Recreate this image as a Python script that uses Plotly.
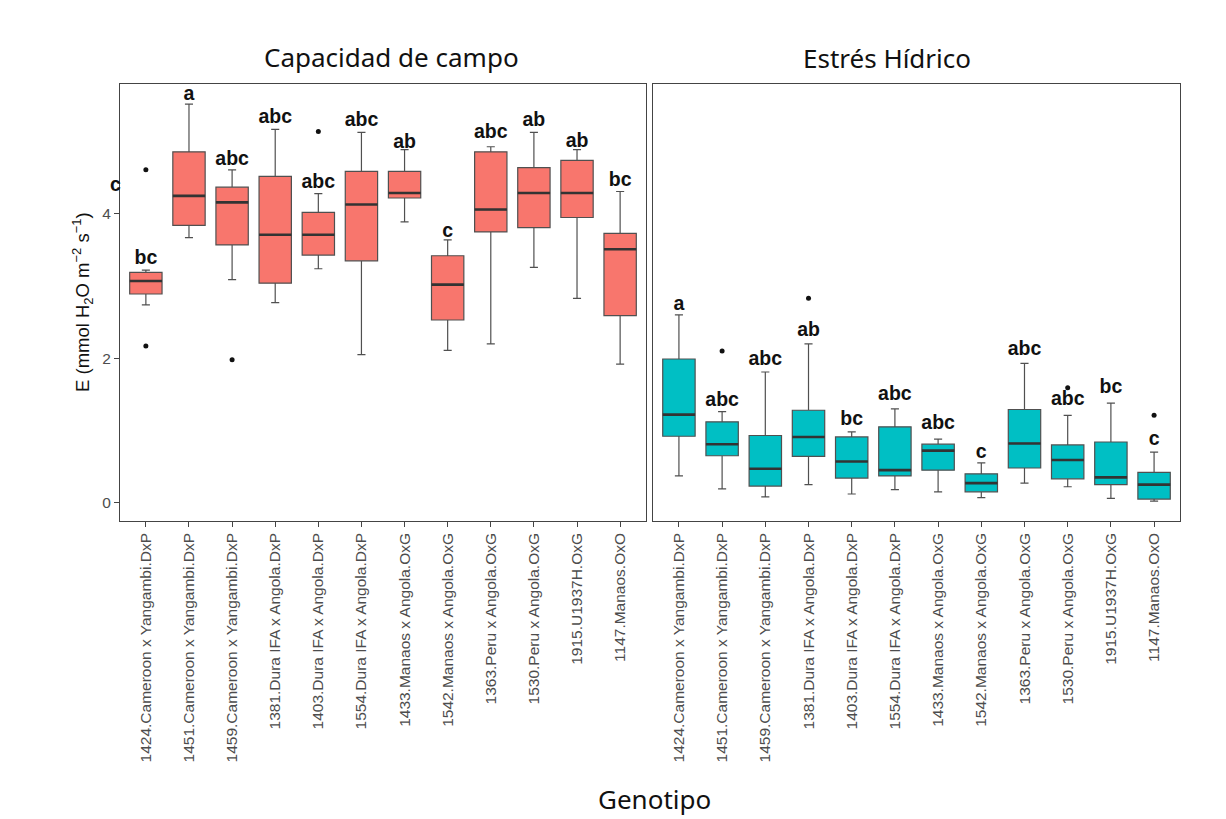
import plotly.graph_objects as go

genotypes = [
    "1424.Cameroon x Yangambi.DxP", "1451.Cameroon x Yangambi.DxP",
    "1459.Cameroon x Yangambi.DxP", "1381.Dura IFA x Angola.DxP",
    "1403.Dura IFA x Angola.DxP", "1554.Dura IFA x Angola.DxP",
    "1433.Manaos x Angola.OxG", "1542.Manaos x Angola.OxG",
    "1363.Peru x Angola.OxG", "1530.Peru x Angola.OxG",
    "1915.U1937H.OxG", "1147.Manaos.OxO",
]

# Capacidad de campo
cc_low = [2.74, 3.67, 3.09, 2.77, 3.24, 2.05, 3.89, 2.11, 2.20, 3.26, 2.83, 1.92]
cc_q1 = [2.89, 3.84, 3.57, 3.04, 3.43, 3.35, 4.22, 2.53, 3.75, 3.81, 3.95, 2.59]
cc_med = [3.07, 4.25, 4.16, 3.71, 3.71, 4.13, 4.29, 3.02, 4.06, 4.29, 4.29, 3.51]
cc_q3 = [3.19, 4.86, 4.37, 4.52, 4.02, 4.59, 4.59, 3.42, 4.86, 4.64, 4.74, 3.73]
cc_high = [3.22, 5.52, 4.61, 5.17, 4.28, 5.13, 4.89, 3.64, 4.93, 5.13, 4.89, 4.31]
cc_out_x = [0, 0, 2, 4]
cc_out_y = [4.61, 2.17, 1.98, 5.14]
cc_letters = ["bc", "a", "abc", "abc", "abc", "abc", "ab", "c", "abc", "ab", "ab", "bc"]
cc_letter_y = [3.38, 5.65, 4.75, 5.33, 4.43, 5.28, 4.98, 3.75, 5.12, 5.28, 4.99, 4.45]

# Estrés Hídrico
eh_low = [0.37, 0.19, 0.08, 0.25, 0.12, 0.18, 0.15, 0.07, 0.27, 0.22, 0.06, 0.02]
eh_q1 = [0.92, 0.65, 0.23, 0.64, 0.34, 0.37, 0.45, 0.15, 0.48, 0.33, 0.25, 0.05]
eh_med = [1.22, 0.81, 0.47, 0.91, 0.57, 0.45, 0.72, 0.27, 0.82, 0.59, 0.35, 0.25]
eh_q3 = [1.99, 1.12, 0.93, 1.28, 0.91, 1.05, 0.81, 0.40, 1.29, 0.80, 0.84, 0.42]
eh_high = [2.60, 1.26, 1.81, 2.20, 0.98, 1.30, 0.88, 0.55, 1.93, 1.21, 1.38, 0.70]
eh_out_x = [1, 3, 9, 11]
eh_out_y = [2.10, 2.83, 1.59, 1.21]
eh_letters = ["a", "abc", "abc", "ab", "bc", "abc", "abc", "c", "abc", "abc", "bc", "c"]
eh_letter_y = [2.74, 1.40, 1.97, 2.37, 1.15, 1.49, 1.09, 0.69, 2.11, 1.42, 1.58, 0.86]

panel_titles = ["Capacidad de campo", "Estrés Hídrico"]
x_title = "Genotipo"
y_title = "E (mmol H<sub>2</sub>O m<sup>−2</sup> s<sup>−1</sup>)"
stray_letter = "c"
stray_letter_y = 4.41
y_ticks = [0, 2, 4]

# page body has an 8px margin; the figure is offset by it
OFF = 8
FW, FH = 1226 - OFF, 819 - OFF


def px(rx):
    return (rx - OFF) / FW


def py(ry):
    return 1 - (ry - OFF) / FH


BOX_W = 0.75
idx = list(range(len(genotypes)))

fig = go.Figure()

panels = [
    ("x", "y", cc_low, cc_q1, cc_med, cc_q3, cc_high, cc_out_x, cc_out_y, cc_letters, cc_letter_y, "#F8766D"),
    ("x2", "y2", eh_low, eh_q1, eh_med, eh_q3, eh_high, eh_out_x, eh_out_y, eh_letters, eh_letter_y, "#00BFC4"),
]

letter_font = dict(family="Liberation Sans", size=19.5, color="#111111", weight="bold")

for xa, ya, lo, q1, med, q3, hi, ox, oy, letters, ly, col in panels:
    fig.add_trace(go.Box(
        x=idx, q1=q1, median=med, q3=q3, lowerfence=lo, upperfence=hi,
        width=BOX_W, whiskerwidth=0.25, fillcolor=col,
        line=dict(color="#505050", width=1.2), boxpoints=False,
        xaxis=xa, yaxis=ya, showlegend=False, hoverinfo="skip",
    ))
    mx, my = [], []
    for i, m in zip(idx, med):
        mx += [i - BOX_W / 2, i + BOX_W / 2, None]
        my += [m, m, None]
    fig.add_trace(go.Scatter(x=mx, y=my, mode="lines",
                             line=dict(color="#333333", width=2.6),
                             xaxis=xa, yaxis=ya, showlegend=False, hoverinfo="skip"))
    fig.add_trace(go.Scatter(x=ox, y=oy, mode="markers",
                             marker=dict(color="#111111", size=5),
                             xaxis=xa, yaxis=ya, showlegend=False, hoverinfo="skip"))
    fig.add_trace(go.Scatter(x=idx, y=ly, mode="text", text=letters,
                             textposition="middle center", textfont=letter_font,
                             xaxis=xa, yaxis=ya, showlegend=False, hoverinfo="skip"))

xdom1 = [px(120), px(646)]
xdom2 = [px(653), px(1180)]
ydom = [py(520.7), py(84.3)]
yrange = [-0.25, 5.795]
xrange = [-0.6, 11.6]

axis_common = dict(showline=True, linecolor="#444444", linewidth=1.2, mirror=True,
                   showgrid=False, zeroline=False, ticks="outside", ticklen=5,
                   tickcolor="#444444", automargin=False)
tickfont = dict(family="Liberation Sans", size=15.5, color="#4d4d4d")

fig.update_layout(
    width=FW, height=FH,
    margin=dict(l=0, r=0, t=0, b=0),
    paper_bgcolor="white", plot_bgcolor="white",
    boxmode="overlay",
    xaxis=dict(domain=xdom1, range=xrange, tickvals=idx, ticktext=genotypes,
               tickangle=-90, tickfont=tickfont, anchor="y", **axis_common),
    xaxis2=dict(domain=xdom2, range=xrange, tickvals=idx, ticktext=genotypes,
                tickangle=-90, tickfont=tickfont, anchor="y2", **axis_common),
    yaxis=dict(domain=ydom, range=yrange, tickvals=y_ticks, tickfont=tickfont,
               anchor="x", **axis_common),
    yaxis2=dict(domain=ydom, range=yrange, tickvals=y_ticks, showticklabels=False,
                anchor="x2", **{**axis_common, "ticks": ""}),
)

title_font = dict(family="Noto Sans", size=26, color="#111111")
fig.add_annotation(text=panel_titles[0], x=px(391), y=py(57), xref="paper", yref="paper",
                   xanchor="center", yanchor="middle", showarrow=False, font=title_font)
fig.add_annotation(text=panel_titles[1], x=px(887), y=py(58), xref="paper", yref="paper",
                   xanchor="center", yanchor="middle", showarrow=False, font=title_font)
fig.add_annotation(text=x_title, x=px(654), y=py(799), xref="paper", yref="paper",
                   xanchor="center", yanchor="middle", showarrow=False, font=title_font)
fig.add_annotation(text=y_title, x=px(82), y=py(302), xref="paper", yref="paper",
                   xanchor="center", yanchor="middle", showarrow=False, textangle=-90,
                   font=dict(family="Liberation Sans", size=18.5, color="#111111"))
fig.add_annotation(text=stray_letter, x=px(115), y=stray_letter_y, xref="paper", yref="y",
                   xanchor="center", yanchor="middle", showarrow=False, font=letter_font)

fig.write_html("out.html")
